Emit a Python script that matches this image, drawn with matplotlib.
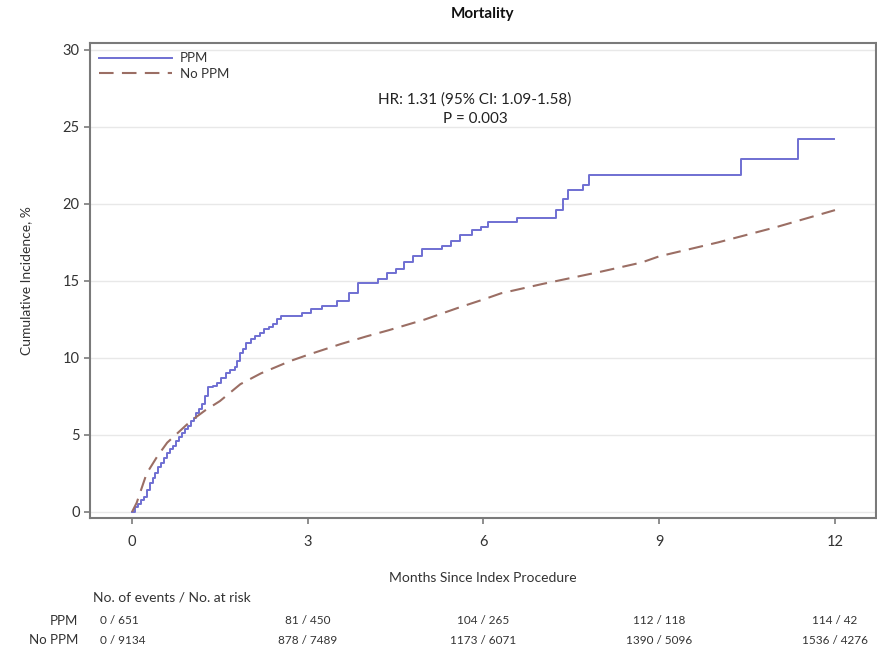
import numpy as np
import matplotlib
matplotlib.use("Agg")
import matplotlib.pyplot as plt
import matplotlib.transforms as mtransforms

plt.rcParams['font.family'] = ['Lato', 'DejaVu Sans']

# Kaplan-Meier style cumulative incidence (%), months since index procedure
ppm_months = [0, 0.05, 0.1, 0.15, 0.2, 0.25, 0.3, 0.35, 0.4, 0.45, 0.5, 0.55, 0.6,
              0.65, 0.7, 0.75, 0.8, 0.85, 0.9, 0.95, 1.0, 1.05, 1.1, 1.15, 1.2,
              1.25, 1.3, 1.38, 1.45, 1.52, 1.6, 1.68, 1.75, 1.8, 1.85, 1.9, 1.95,
              2.03, 2.1, 2.18, 2.25, 2.33, 2.4, 2.48, 2.55, 2.9, 3.05, 3.25,
              3.5, 3.7, 3.85, 4.2, 4.35, 4.5, 4.65, 4.8, 4.95, 5.3, 5.45, 5.6,
              5.8, 5.95, 6.07, 6.58, 7.23, 7.35, 7.45, 7.7, 7.8, 10.39, 11.37, 11.98]
ppm_incidence = [0, 0.3, 0.5, 0.8, 1.0, 1.4, 1.9, 2.2, 2.5, 2.9, 3.2, 3.5, 3.8,
                 4.1, 4.3, 4.6, 4.9, 5.1, 5.4, 5.6, 5.9, 6.1, 6.4, 6.7, 7.0,
                 7.5, 8.1, 8.2, 8.4, 8.7, 9.0, 9.2, 9.4, 9.8, 10.3, 10.6, 11.0,
                 11.2, 11.4, 11.6, 11.9, 12.0, 12.2, 12.5, 12.7, 12.9, 13.2, 13.4,
                 13.7, 14.2, 14.9, 15.1, 15.5, 15.8, 16.2, 16.6, 17.1, 17.3, 17.6, 18.0,
                 18.3, 18.5, 18.8, 19.1, 19.6, 20.3, 20.9, 21.2, 21.9, 22.9, 24.2, 24.2]

noppm_months = [0, 0.08, 0.25, 0.43, 0.6, 0.8, 1.0, 1.25, 1.5, 1.85, 2.2, 2.7, 3.0,
                3.56, 4.0, 4.38, 5.0, 5.6, 6.0, 6.3, 7.0, 8.0, 8.7, 9.0, 10.0, 10.4,
                11.0, 12.0]
noppm_incidence = [0, 0.6, 2.5, 3.6, 4.5, 5.2, 5.9, 6.6, 7.2, 8.3, 9.0, 9.8, 10.2,
                   10.9, 11.4, 11.8, 12.5, 13.3, 13.8, 14.2, 14.8, 15.6, 16.2, 16.6,
                   17.5, 17.9, 18.5, 19.6]

# number-at-risk table
table_months = [0, 3, 6, 9, 12]
ppm_risk = ['0 / 651', '81 / 450', '104 / 265', '112 / 118', '114 / 42']
noppm_risk = ['0 / 9134', '878 / 7489', '1173 / 6071', '1390 / 5096', '1536 / 4276']

PPM_COLOR = '#6f6fd2'
NOPPM_COLOR = '#9b6e64'
TEXT_COLOR = '#333333'
SPINE_COLOR = '#7a7a7a'

fig = plt.figure(figsize=(8.78, 6.5), dpi=100)
ax = fig.add_axes([90 / 878, 1 - 518 / 650, 786 / 878, 475 / 650])

ax.plot(ppm_months, ppm_incidence, drawstyle='steps-post', color=PPM_COLOR,
        linewidth=1.4, label='PPM')
ax.plot(noppm_months, noppm_incidence, color=NOPPM_COLOR, linewidth=1.5,
        linestyle=(0, (7, 4)), label='No PPM')

ax.set_xlim(-0.717, 12.70)
ax.set_ylim(-0.39, 30.45)
ax.set_xticks([0, 3, 6, 9, 12])
ax.set_yticks([0, 5, 10, 15, 20, 25, 30])
ax.yaxis.grid(True, color='#e8e8e8', linewidth=1.0)
ax.set_axisbelow(True)

for s in ax.spines.values():
    s.set_color(SPINE_COLOR)
    s.set_linewidth(1.5)
ax.tick_params(axis='both', colors=SPINE_COLOR, labelcolor=TEXT_COLOR,
               labelsize=10.5, length=4, width=1.2)
ax.tick_params(axis='x', pad=8)

ax.set_ylabel('Cumulative Incidence, %', fontsize=10, color=TEXT_COLOR, labelpad=22)
ax.set_title('Mortality', fontsize=11, fontweight='bold', color='#111111', pad=18)

ax.legend(loc='upper left', frameon=False, fontsize=9.5, handlelength=5.5,
          handletextpad=0.6, borderaxespad=0.3, labelspacing=0.25,
          labelcolor=TEXT_COLOR)

ax.text(0.49, 0.86, 'HR: 1.31 (95% CI: 1.09-1.58)\nP = 0.003',
        transform=ax.transAxes, ha='center', va='center', fontsize=11,
        color='#222222', linespacing=1.5)

# x label and the at-risk table below the axes
fig.text(483 / 878, 1 - 578 / 650, 'Months Since Index Procedure',
         ha='center', va='center', fontsize=10, color=TEXT_COLOR)
fig.text(93 / 878, 1 - 597 / 650, 'No. of events / No. at risk',
         ha='left', va='center', fontsize=10, color=TEXT_COLOR)

blend = mtransforms.blended_transform_factory(ax.transData, fig.transFigure)
rows = [('PPM', ppm_risk, 1 - 621 / 650), ('No PPM', noppm_risk, 1 - 640 / 650)]
for name, vals, ypos in rows:
    fig.text(78 / 878, ypos, name, ha='right', va='center', fontsize=9.5,
             color=TEXT_COLOR)
    for i, (m, v) in enumerate(zip(table_months, vals)):
        if i == 0:
            fig.text(100 / 878, ypos, v, ha='left', va='center', fontsize=8.5,
                     color=TEXT_COLOR)
        else:
            fig.text(m, ypos, v, transform=blend, ha='center', va='center',
                     fontsize=8.5, color=TEXT_COLOR)

fig.savefig('out.png', dpi=100)
